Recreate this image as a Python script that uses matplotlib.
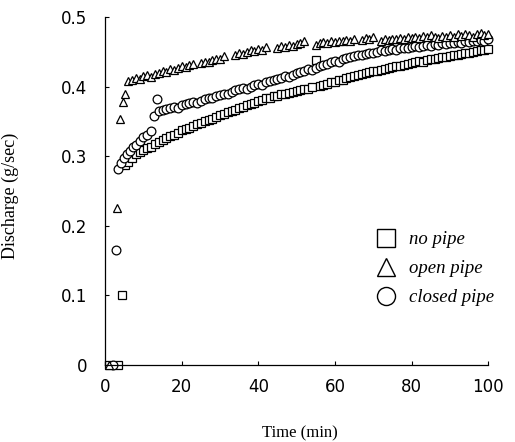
import matplotlib.pyplot as plt
from matplotlib.lines import Line2D

# Discharge measurements (g/sec) against time (min) for the three cases
t_none = [1, 3.5, 4.5, 5.3, 6, 7, 8, 9, 10, 11, 12, 13, 14, 15, 16, 17, 18, 19, 20,
          21, 22, 23, 24, 25, 26, 27, 28, 29, 30, 31, 32, 33, 34, 35, 36, 37, 38, 39, 40,
          41, 42, 43, 44, 45, 46, 47, 48, 49, 50, 51, 52, 53, 54, 55, 56, 57, 58, 59, 60,
          61, 62, 63, 64, 65, 66, 67, 68, 69, 70, 71, 72, 73, 74, 75, 76, 77, 78, 79, 80,
          81, 82, 83, 84, 85, 86, 87, 88, 89, 90, 91, 92, 93, 94, 95, 96, 97, 98, 99, 100]
q_none = [0.0, 0.0, 0.100, 0.287, 0.292, 0.298, 0.303, 0.306, 0.309, 0.312, 0.314, 0.317,
          0.320, 0.323, 0.326, 0.329, 0.331, 0.334, 0.337, 0.339, 0.341, 0.343, 0.346,
          0.348, 0.350, 0.352, 0.354, 0.356, 0.359, 0.361, 0.363, 0.365, 0.367, 0.369,
          0.371, 0.373, 0.375, 0.377, 0.380, 0.381, 0.383, 0.384, 0.386, 0.387, 0.389,
          0.390, 0.391, 0.392, 0.394, 0.395, 0.396, 0.397, 0.399, 0.438, 0.401, 0.403,
          0.404, 0.406, 0.407, 0.409, 0.410, 0.412, 0.414, 0.415, 0.417, 0.418, 0.419,
          0.421, 0.422, 0.423, 0.424, 0.426, 0.427, 0.428, 0.429, 0.430, 0.431, 0.432,
          0.434, 0.435, 0.437, 0.436, 0.438, 0.439, 0.440, 0.441, 0.442, 0.443, 0.444,
          0.445, 0.446, 0.447, 0.448, 0.449, 0.450, 0.451, 0.452, 0.453, 0.454]

t_open = [1, 3, 4, 4.7, 5.2, 6, 7, 8, 9, 10, 11, 12, 13, 14, 15, 16, 17, 18, 19, 20,
          21, 22, 23, 25, 26, 27, 28, 29, 30, 31, 34, 35, 36, 37, 38, 39, 40, 41, 42,
          45, 46, 47, 48, 49, 50, 51, 52, 55, 56, 57, 58, 59, 60, 61, 62, 63, 64, 65,
          67, 68, 69, 70, 72, 73, 74, 75, 76, 77, 78, 79, 80, 81, 82, 83, 84, 85, 86,
          87, 88, 89, 90, 91, 92, 93, 94, 95, 96, 97, 98, 99, 100]
q_open = [0.0, 0.226, 0.354, 0.378, 0.390, 0.408, 0.410, 0.412, 0.411, 0.415, 0.416,
          0.414, 0.418, 0.420, 0.423, 0.421, 0.425, 0.424, 0.427, 0.430, 0.428, 0.431,
          0.433, 0.434, 0.436, 0.435, 0.438, 0.440, 0.439, 0.444, 0.446, 0.448, 0.447,
          0.450, 0.452, 0.451, 0.454, 0.453, 0.457, 0.455, 0.458, 0.457, 0.460, 0.459,
          0.461, 0.463, 0.466, 0.460, 0.462, 0.464, 0.463, 0.465, 0.464, 0.466, 0.465,
          0.467, 0.466, 0.469, 0.467, 0.470, 0.468, 0.471, 0.466, 0.468, 0.467, 0.469,
          0.468, 0.470, 0.469, 0.471, 0.470, 0.472, 0.470, 0.473, 0.471, 0.474, 0.472,
          0.470, 0.473, 0.471, 0.474, 0.472, 0.475, 0.473, 0.476, 0.474, 0.472, 0.475,
          0.477, 0.474, 0.476]

t_closed = [2, 2.8, 3.5, 4.2, 5, 5.7, 6.5, 7.3, 8, 9, 10, 11, 12, 12.8, 13.5, 14, 15,
            16, 17, 18, 19, 20, 21, 22, 23, 24, 25, 26, 27, 28, 29, 30, 31, 32, 33, 34,
            35, 36, 37, 38, 39, 40, 41, 42, 43, 44, 45, 46, 47, 48, 49, 50, 51, 52, 53,
            54, 55, 56, 57, 58, 59, 60, 61, 62, 63, 64, 65, 66, 67, 68, 69, 70, 71, 72,
            73, 74, 75, 76, 77, 78, 79, 80, 81, 82, 83, 84, 85, 86, 87, 88, 89, 90, 91,
            92, 93, 94, 95, 96, 97, 98, 99, 100]
q_closed = [0.0, 0.166, 0.281, 0.290, 0.298, 0.303, 0.308, 0.314, 0.316, 0.322, 0.327,
            0.331, 0.336, 0.358, 0.382, 0.365, 0.367, 0.368, 0.369, 0.371, 0.370, 0.373,
            0.375, 0.376, 0.378, 0.377, 0.380, 0.382, 0.384, 0.383, 0.386, 0.388, 0.390,
            0.389, 0.392, 0.395, 0.396, 0.398, 0.397, 0.400, 0.402, 0.404, 0.403, 0.406,
            0.408, 0.410, 0.411, 0.413, 0.415, 0.414, 0.417, 0.419, 0.421, 0.422, 0.425,
            0.424, 0.427, 0.429, 0.431, 0.433, 0.435, 0.437, 0.436, 0.439, 0.441, 0.443,
            0.444, 0.446, 0.445, 0.447, 0.449, 0.448, 0.450, 0.452, 0.451, 0.453, 0.454,
            0.453, 0.455, 0.456, 0.455, 0.457, 0.458, 0.457, 0.459, 0.460, 0.459, 0.461,
            0.460, 0.462, 0.461, 0.463, 0.462, 0.464, 0.463, 0.465, 0.464, 0.466, 0.465,
            0.467, 0.466, 0.468]

labels = ["no pipe", "open pipe", "closed pipe"]
markers = ["s", "^", "o"]

serif = ["Liberation Serif", "DejaVu Serif"]

fig = plt.figure(figsize=(5.15, 4.42), dpi=100)
ax = fig.add_axes([0.204, 0.174, 0.744, 0.7875])

# open white markers, drawn over each other so the dense rows look scalloped
style = dict(linestyle="none", markersize=6.3, markerfacecolor="white",
             markeredgecolor="black", markeredgewidth=0.9, clip_on=False)
ax.plot(t_none, q_none, marker="s", **style)
ax.plot(t_closed, q_closed, marker="o", **style)
ax.plot(t_open, q_open, marker="^", **style)

ax.set_xlim(0, 100)
ax.set_ylim(0, 0.5)
ax.set_xticks([0, 20, 40, 60, 80, 100])
ax.set_yticks([0, 0.1, 0.2, 0.3, 0.4, 0.5])
ax.set_yticklabels(["0", "0.1", "0.2", "0.3", "0.4", "0.5"])
ax.tick_params(direction="in", length=3, width=0.8, labelsize=12)
ax.tick_params(axis="y", pad=13)
ax.tick_params(axis="x", pad=9)

for side in ["top", "right"]:
    ax.spines[side].set_visible(False)
for side in ["left", "bottom"]:
    ax.spines[side].set_linewidth(0.9)

ax.set_ylabel("Discharge (g/sec)", family=serif, fontsize=13)
ax.yaxis.set_label_coords(-0.225, 0.486)
ax.set_xlabel("Time (min)", family=serif, fontsize=12)
ax.xaxis.set_label_coords(0.509, -0.172)

handles = [Line2D([], [], linestyle="none", marker=m, markersize=13,
                  markerfacecolor="white", markeredgecolor="black",
                  markeredgewidth=1.0) for m in markers]
ax.legend(handles, labels, loc="upper left", bbox_to_anchor=(0.68, 0.412),
          frameon=False, handlelength=1.2, handletextpad=0.6, labelspacing=0.64,
          borderpad=0, prop={"family": serif, "style": "italic", "size": 13.5})

plt.savefig("out.png", dpi=100)
plt.close()
